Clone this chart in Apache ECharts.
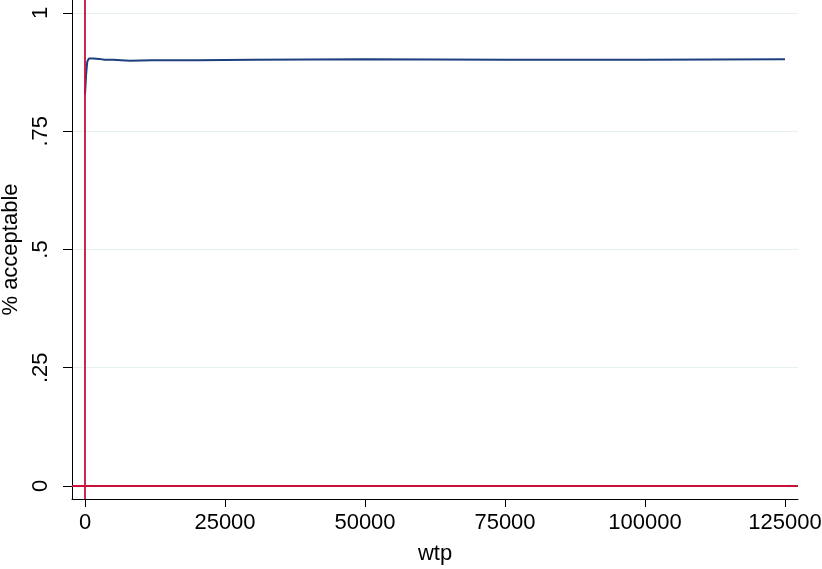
<!DOCTYPE html>
<html><head><meta charset="utf-8">
<script src="https://cdn.jsdelivr.net/npm/echarts@6/dist/echarts.min.js"></script>
<style>html,body{margin:0;padding:0;background:#fff}#c{width:822px;height:569px}</style>
</head><body><div id="c"></div>
<script>
const wtp = [0, 200, 400, 700, 1000, 1500, 2500, 3500, 5000, 8000, 12000, 20000, 30000, 50000, 75000, 100000, 125000];
const pctAcceptable = [0.828, 0.87, 0.897, 0.904, 0.905, 0.904, 0.903, 0.901, 0.901, 0.899, 0.900, 0.900, 0.901, 0.902, 0.901, 0.901, 0.902];
const xTicks = [0, 25000, 50000, 75000, 100000, 125000];
const yTicks = [0, 0.25, 0.5, 0.75, 1];
const yTickLabels = ['0', '.25', '.5', '.75', '1'];

const chart = echarts.init(document.getElementById('c'), null, {renderer: 'canvas'});
const font = '"Liberation Sans", Arial, sans-serif';
chart.setOption({
  animation: false,
  grid: {left: 72, right: 24, top: 0, bottom: 70, containLabel: false, outerBoundsMode: 'none'},
  xAxis: {
    type: 'value', min: -2321, max: 127321,
    name: 'wtp', nameLocation: 'middle', nameGap: 44,
    nameTextStyle: {fontFamily: font, fontSize: 22, color: '#000'},
    axisLine: {onZero: false, lineStyle: {color: '#000', width: 1}},
    axisTick: {show: true, length: 8, lineStyle: {color: '#000'}, customValues: xTicks},
    axisLabel: {fontFamily: font, fontSize: 22, color: '#000', margin: 13, customValues: xTicks,
      formatter: v => String(v)},
    splitLine: {show: false}
  },
  yAxis: {
    type: 'value', min: -0.0275, max: 1.0275,
    name: '% acceptable', nameLocation: 'middle', nameGap: 48, nameRotate: 90,
    nameTextStyle: {fontFamily: font, fontSize: 22, color: '#000'},
    axisLine: {onZero: false, lineStyle: {color: '#000', width: 1}},
    axisTick: {show: true, length: 9, lineStyle: {color: '#000'}, customValues: yTicks},
    axisLabel: {fontFamily: font, fontSize: 22, color: '#000', rotate: 90, margin: 20, customValues: yTicks,
      formatter: v => yTickLabels[yTicks.findIndex(t => Math.abs(t - v) < 1e-6)] ?? ''},
    splitLine: {show: true, lineStyle: {color: '#e6f0f2', width: 1}, customValues: yTicks}
  },
  series: [{
    type: 'line', data: wtp.map((x, i) => [x, pctAcceptable[i]]),
    showSymbol: false, lineStyle: {color: '#1c3f7f', width: 2}, z: 3,
    markLine: {
      silent: true, symbol: 'none', label: {show: false},
      lineStyle: {color: '#c90f3c', width: 1.8, type: 'solid'},
      data: [{xAxis: 0}, {yAxis: 0}]
    }
  }]
});
</script></body></html>
